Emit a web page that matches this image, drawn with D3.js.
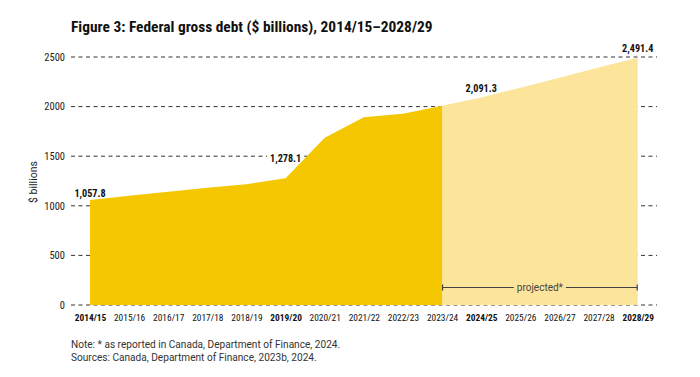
<!DOCTYPE html>
<html>
<head>
<meta charset="utf-8">
<script src="https://cdn.jsdelivr.net/npm/d3@7"></script>
<style>
  body { margin: 0; background: #fff; }
</style>
</head>
<body>
<script>
// fiscal years and federal gross debt ($ billions)
var years = ["2014/15", "2015/16", "2016/17", "2017/18", "2018/19", "2019/20", "2020/21",
  "2021/22", "2022/23", "2023/24", "2024/25", "2025/26", "2026/27", "2027/28", "2028/29"];
var debt = [1057.8, 1102, 1142, 1183, 1218, 1278.1, 1687, 1893, 1928, 2008,
  2091.3, 2190, 2292, 2393, 2491.4];
var yTicks = [0, 500, 1000, 1500, 2000, 2500];
var boldYears = ["2014/15", "2019/20", "2024/25", "2028/29"];
var labelled = ["2014/15", "2019/20", "2024/25", "2028/29"];
var actualEnd = "2023/24";   // last non-projected year

var width = 700, height = 377;
var margin = {top: 57, left: 71, right: 43, bottom: 72};
var cond = "'Roboto Condensed', Roboto, sans-serif";
var reg = "Roboto, sans-serif";

var svg = d3.select("body").append("svg")
  .attr("width", width)
  .attr("height", height);

var x = d3.scalePoint()
  .domain(years)
  .range([90, 637.7]);

var y = d3.scaleLinear()
  .domain([0, 2500])
  .range([height - margin.bottom, margin.top]);

var data = years.map(function(d, i) { return {year: d, value: debt[i]}; });
var split = years.indexOf(actualEnd);

// title
svg.append("text")
  .attr("x", 71)
  .attr("y", 32)
  .style("font-family", cond)
  .style("font-weight", "bold")
  .style("font-size", "15.4px")
  .attr("fill", "#111")
  .text("Figure 3: Federal gross debt ($ billions), 2014/15\u20132028/29");

// gridlines
svg.append("g")
  .selectAll("line")
  .data(yTicks)
  .enter()
    .append("line")
      .attr("x1", margin.left)
      .attr("x2", 657)
      .attr("y1", function(d) { return y(d); })
      .attr("y2", function(d) { return y(d); })
      .attr("stroke", "#333")
      .attr("stroke-width", 1)
      .attr("stroke-dasharray", "4,3.5");

// y axis labels
var yAxis = svg.append("g")
  .attr("transform", "translate(" + margin.left + ",0)")
  .call(d3.axisLeft(y).tickValues(yTicks).tickFormat(d3.format("d")).tickSize(0).tickPadding(6));
yAxis.select(".domain").remove();
yAxis.selectAll("text")
  .style("font-family", cond)
  .style("font-size", "10.5px")
  .attr("fill", "#222");

svg.append("text")
  .attr("transform", "translate(37," + 182 + ") rotate(-90)")
  .attr("text-anchor", "middle")
  .style("font-family", reg)
  .style("font-size", "10.5px")
  .attr("fill", "#222")
  .text("$ billions");

// white boxes behind value labels (under the areas, over the grid)
var labelBg = svg.append("g");

var area = d3.area()
  .x(function(d) { return x(d.year); })
  .y0(y(0))
  .y1(function(d) { return y(d.value); });

// projected part first, then actual
svg.append("path")
  .datum(data.slice(split))
  .attr("fill", "#fce59b")
  .attr("d", area);

svg.append("path")
  .datum(data.slice(0, split + 1))
  .attr("fill", "#f4c700")
  .attr("d", area);

// value labels
var fmt = d3.format(",.1f");
var labelText = svg.append("g")
  .selectAll("text")
  .data(data.filter(function(d) { return labelled.indexOf(d.year) >= 0; }))
  .enter()
    .append("text")
      .attr("x", function(d) { return x(d.year); })
      .attr("y", function(d) {
        var dy = d.year == "2019/20" ? 20 : (d.year == "2014/15" ? 7 : 9.5);
        return y(d.value) - dy;
      })
      .attr("text-anchor", "middle")
      .attr("dy", "0.35em")
      .style("font-family", cond)
      .style("font-weight", "bold")
      .style("font-size", "10.2px")
      .attr("fill", "#111")
      .text(function(d) { return fmt(d.value); });

labelText.each(function() {
  var bb = this.getBBox();
  labelBg.append("rect")
    .attr("x", bb.x - 3).attr("y", bb.y)
    .attr("width", bb.width + 6).attr("height", bb.height)
    .attr("fill", "#fff");
});

// x axis labels
var xAxis = svg.append("g")
  .attr("transform", "translate(0," + y(0) + ")")
  .call(d3.axisBottom(x).tickSize(0).tickPadding(9));
xAxis.select(".domain").remove();
xAxis.selectAll("text")
  .style("font-family", cond)
  .style("font-size", "9.4px")
  .style("font-weight", function(d) { return boldYears.indexOf(d) >= 0 ? "bold" : "normal"; })
  .attr("fill", "#111");

// projected bracket
var bx0 = x(actualEnd), bx1 = x(years[years.length - 1]), by = 287.5;
var bracket = svg.append("g").attr("stroke", "#444").attr("stroke-width", 1.2);
bracket.append("line").attr("x1", bx0).attr("x2", (bx0 + bx1) / 2 - 26).attr("y1", by).attr("y2", by);
bracket.append("line").attr("x1", (bx0 + bx1) / 2 + 26).attr("x2", bx1).attr("y1", by).attr("y2", by);
bracket.append("line").attr("x1", bx0 + 0.5).attr("x2", bx0 + 0.5).attr("y1", by - 3).attr("y2", by + 3);
bracket.append("line").attr("x1", bx1 - 0.5).attr("x2", bx1 - 0.5).attr("y1", by - 3).attr("y2", by + 3);
svg.append("text")
  .attr("x", (bx0 + bx1) / 2)
  .attr("y", by + 3.5)
  .attr("text-anchor", "middle")
  .style("font-family", reg)
  .style("font-size", "10px")
  .attr("fill", "#444")
  .text("projected*");

// notes
svg.append("text").attr("x", 71).attr("y", 348)
  .style("font-family", reg).style("font-size", "10.1px").attr("fill", "#333")
  .text("Note: * as reported in Canada, Department of Finance, 2024.");
svg.append("text").attr("x", 71).attr("y", 361)
  .style("font-family", reg).style("font-size", "10.1px").attr("fill", "#333")
  .text("Sources: Canada, Department of Finance, 2023b, 2024.");
</script>
</body>
</html>
